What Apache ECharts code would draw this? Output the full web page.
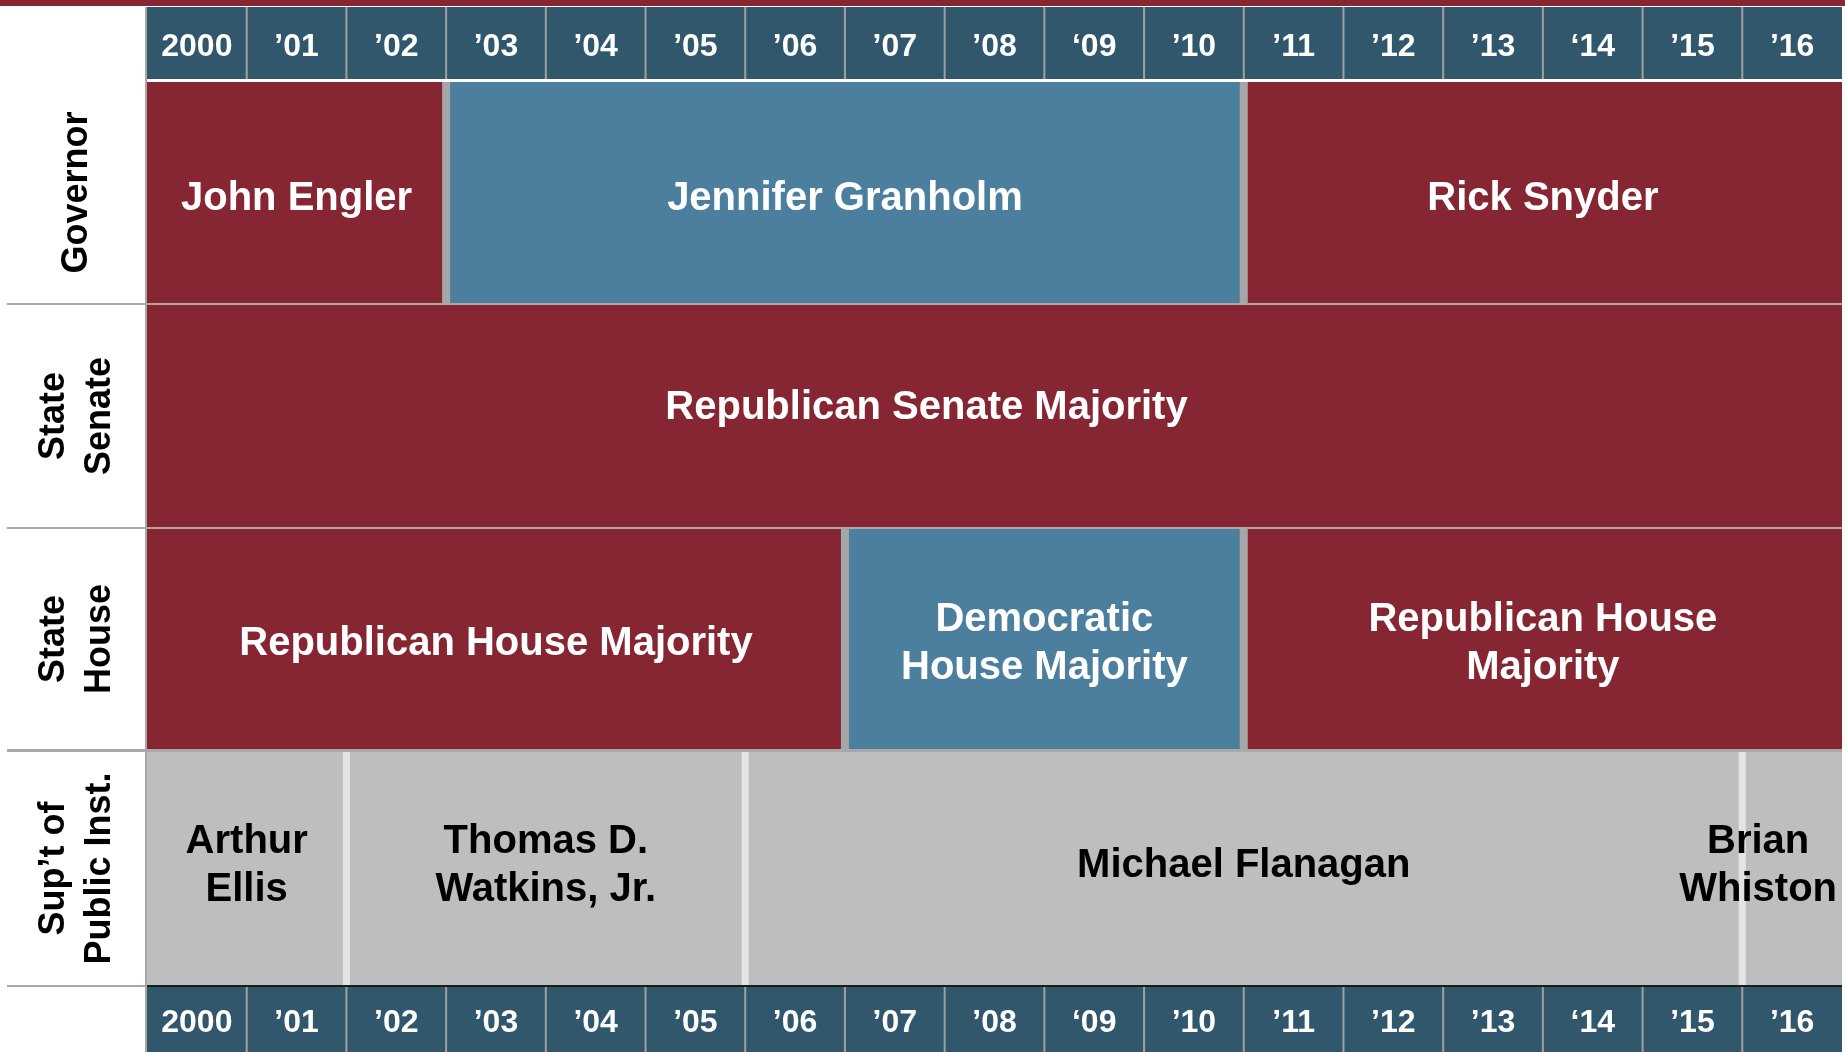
<!DOCTYPE html>
<html><head><meta charset="utf-8">
<script src="https://cdn.jsdelivr.net/npm/echarts@6/dist/echarts.min.js"></script>
<style>html,body{margin:0;padding:0;background:#fff}#c{width:1845px;height:1052px}</style>
</head><body><div id="c"></div>
<script>
// ---------- data ----------
const yearStarts = [2000,2001,2002,2003,2004,2005,2006,2007,2008,2009,2010,2011,2012,2013,2014,2015,2016];
const yearLabels = ['2000','\u201901','\u201902','\u201903','\u201904','\u201905','\u201906','\u201907','\u201908','\u201809','\u201910','\u201911','\u201912','\u201913','\u201814','\u201915','\u201916'];
const rowLabels = ['Governor','State\nSenate','State\nHouse','Sup\u2019t of\nPublic Inst.'];

const governorNames = ['John Engler','Jennifer Granholm','Rick Snyder'];
const governorStart = [2000,2003,2011];
const governorEnd   = [2003,2011,2017];
const governorParty = ['R','D','R'];

const senateNames = ['Republican Senate Majority'];
const senateStart = [2000];
const senateEnd   = [2017];
const senateParty = ['R'];

const houseNames = ['Republican House Majority','Democratic\nHouse Majority','Republican House\nMajority'];
const houseStart = [2000,2007,2011];
const houseEnd   = [2007,2011,2017];
const houseParty = ['R','D','R'];

const supNames = ['Arthur\nEllis','Thomas D.\nWatkins, Jr.','Michael Flanagan','Brian\nWhiston'];
const supStart = [2000,2002,2006,2016];
const supEnd   = [2002,2006,2016,2017];
const supParty = ['N','N','N','N'];

// ---------- styles / layout ----------
const FONT = '"Liberation Sans", Arial, Helvetica, sans-serif';
const FILL = {R:'#862633', D:'#4b7f9d', N:'#bdbec0'};
const TEXT = {R:'#ffffff', D:'#ffffff', N:'#000000'};
const SEP  = {R:{c:'#a6a6a6', w:8}, D:{c:'#a6a6a6', w:8}, N:{c:'#e3e4e6', w:7}};
const HEADER_FILL = '#31576d';
const W = 1845, H = 1052, LEFT = 147, RIGHT = 3;
const bands = [
  {top:7, height:72},
  {top:82, height:221},
  {top:305, height:222},
  {top:529, height:220},
  {top:752, height:233},
  {top:987, height:65}
];
// per-row text style: size and label nudge
const rowText = [
  {size:40, dx:0,   dy:6},
  {size:40, dx:-68, dy:-8},
  {size:40, dx:0,   dy:5},
  {size:40, dx:0,   dy:-3}
];

const measureCtx = document.createElement('canvas').getContext('2d');
function textWidth(str, size) {
  measureCtx.font = 'bold ' + size + 'px ' + FONT;
  return Math.max.apply(null, str.split('\n').map(s => measureCtx.measureText(s).width));
}

const grid = bands.map(b => ({left:LEFT, right:RIGHT, top:b.top, height:b.height}));
const xAxis = bands.map((b,i) => ({type:'value', gridIndex:i, min:2000, max:2017, show:false}));
const yAxis = bands.map((b,i) => {
  const isRow = i >= 1 && i <= 4;
  return {
    type:'value', gridIndex:i, min:0, max:1, show:true,
    axisLine:{show:false}, axisTick:{show:false}, axisLabel:{show:false}, splitLine:{show:false},
    name: isRow ? rowLabels[i-1] : '',
    nameLocation:'middle', nameRotate:90, nameGap:70,
    nameTextStyle:{fontSize:36, fontWeight:'bold', fontFamily:FONT, color:'#000', lineHeight:46, align:'center', verticalAlign:'middle'}
  };
});

function headerSeries(idx) {
  return {
    type:'custom', xAxisIndex:idx, yAxisIndex:idx,
    data: yearStarts.map(y => [y, y+1]),
    encode:{x:[0,1]},
    renderItem: function(params, api) {
      const cs = params.coordSys;
      const s = api.coord([api.value(0), 0])[0];
      const e = api.coord([api.value(1), 0])[0];
      const children = [
        {type:'rect', shape:{x:s, y:cs.y, width:e-s, height:cs.height}, style:{fill:HEADER_FILL}}
      ];
      if (params.dataIndex > 0) {
        children.push({type:'rect', shape:{x:s-1, y:cs.y, width:2, height:cs.height}, style:{fill:'#a0a0a0'}});
      }
      children.push({type:'text', style:{text:yearLabels[params.dataIndex], x:(s+e)/2, y:cs.y+cs.height/2+4,
        align:'center', verticalAlign:'middle', fill:'#fff', fontSize:32, fontWeight:'bold', fontFamily:FONT}});
      return {type:'group', children};
    }
  };
}

function rowSeries(idx, names, starts, ends, party) {
  const ts = rowText[idx-1];
  return {
    type:'custom', xAxisIndex:idx, yAxisIndex:idx,
    data: starts.map((s,i) => [s, ends[i]]),
    encode:{x:[0,1]},
    renderItem: function(params, api) {
      const cs = params.coordSys;
      const k = params.dataIndex;
      const p = party[k];
      const s = api.coord([api.value(0), 0])[0];
      const e = api.coord([api.value(1), 0])[0];
      const children = [
        {type:'rect', shape:{x:s, y:cs.y, width:e-s, height:cs.height}, style:{fill:FILL[p]}}
      ];
      if (k > 0) {
        const sp = SEP[p];
        children.push({type:'rect', shape:{x:s-sp.w/2, y:cs.y, width:sp.w, height:cs.height}, style:{fill:sp.c}});
      }
      const tw = textWidth(names[k], ts.size);
      let cx = (s+e)/2 + ts.dx;
      cx = Math.min(cx, cs.x + cs.width - tw/2 - 5);
      cx = Math.max(cx, cs.x + tw/2 + 5);
      children.push({type:'text', style:{text:names[k], x:cx, y:cs.y+cs.height/2+ts.dy,
        align:'center', verticalAlign:'middle', fill:TEXT[p], fontSize:ts.size, fontWeight:'bold',
        fontFamily:FONT, lineHeight:48}});
      return {type:'group', children};
    }
  };
}

// decorative lines built from layout
const graphic = [
  {type:'rect', shape:{x:0, y:0, width:W, height:6}, style:{fill:'#862633'}},
  {type:'rect', shape:{x:LEFT-2, y:7, width:2, height:H-7}, style:{fill:'#a8a8a8'}}
];
for (let i = 1; i <= 3; i++) {
  const y0 = bands[i].top + bands[i].height;
  graphic.push({type:'rect', shape:{x:7, y:y0, width:W-RIGHT-7, height:bands[i+1].top-y0}, style:{fill:'#a8a8a8'}});
}
const yb = bands[4].top + bands[4].height;
graphic.push({type:'rect', shape:{x:7, y:yb, width:LEFT-9, height:2}, style:{fill:'#a8a8a8'}});
graphic.push({type:'rect', shape:{x:LEFT, y:yb, width:W-RIGHT-LEFT, height:2}, style:{fill:'#1a1a1a'}});

const chart = echarts.init(document.getElementById('c'), null, {renderer:'canvas'});
chart.setOption({
  backgroundColor:'#ffffff',
  animation:false,
  grid, xAxis, yAxis, graphic,
  series:[
    headerSeries(0),
    rowSeries(1, governorNames, governorStart, governorEnd, governorParty),
    rowSeries(2, senateNames, senateStart, senateEnd, senateParty),
    rowSeries(3, houseNames, houseStart, houseEnd, houseParty),
    rowSeries(4, supNames, supStart, supEnd, supParty),
    headerSeries(5)
  ]
});
</script></body></html>
